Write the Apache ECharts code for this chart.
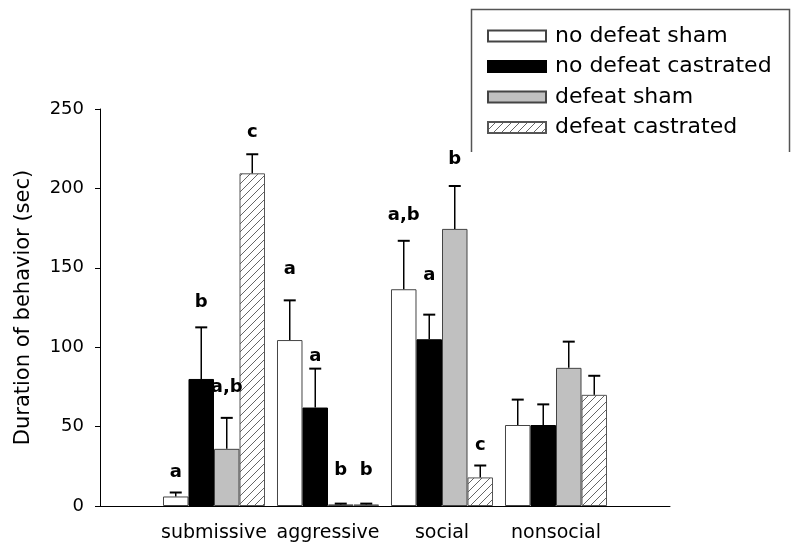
<!DOCTYPE html>
<html><head><meta charset="utf-8">
<script src="https://cdn.jsdelivr.net/npm/echarts@6/dist/echarts.min.js"></script>
<style>html,body{margin:0;padding:0;background:#fff}#c{width:800px;height:550px}</style>
</head><body><div id="c"></div>
<script>
// ---- data ----
const categories = ['submissive', 'aggressive', 'social', 'nonsocial'];
const seriesNames = ['no defeat sham', 'no defeat castrated', 'defeat sham', 'defeat castrated'];
const noDefeatSham = [6, 104.5, 136.5, 51];
const noDefeatCastrated = [80, 62, 105, 51];
const defeatSham = [36, 1, 174.5, 87];
const defeatCastrated = [209.5, 1, 18, 70];
const semNoDefeatSham = [2.5, 25, 30.5, 16];
const semNoDefeatCastrated = [32.5, 24.5, 15.5, 13];
const semDefeatSham = [19.5, 0.5, 27, 16.5];
const semDefeatCastrated = [12, 0.5, 7.5, 12];
const lettersNoDefeatSham = ['a', 'a', 'a,b', ''];
const lettersNoDefeatCastrated = ['b', 'a', 'a', ''];
const lettersDefeatSham = ['a,b', 'b', 'b', ''];
const lettersDefeatCastrated = ['c', 'b', 'c', ''];
const letterYNoDefeatSham = [21, 149, 183, null];
const letterYNoDefeatCastrated = [128.5, 94.5, 145.5, null];
const letterYDefeatSham = [74.5, 22.7, 218.5, null];
const letterYDefeatCastrated = [235.5, 22.7, 38.5, null];
const yMin = 0, yMax = 250, yStep = 50;
const yTitle = 'Duration of behavior (sec)';

// ---- build ----
const means = [noDefeatSham, noDefeatCastrated, defeatSham, defeatCastrated];
const sems = [semNoDefeatSham, semNoDefeatCastrated, semDefeatSham, semDefeatCastrated];
const letters = [lettersNoDefeatSham, lettersNoDefeatCastrated, lettersDefeatSham, lettersDefeatCastrated];
const letterYs = [letterYNoDefeatSham, letterYNoDefeatCastrated, letterYDefeatSham, letterYDefeatCastrated];
const axisCats = [''].concat(categories, ['']);
const GAP = 0.105;
const FONT = 'DejaVu Sans';

function hatch() {
  const c = document.createElement('canvas'); c.width = 8; c.height = 8;
  const g = c.getContext('2d');
  g.fillStyle = '#fff'; g.fillRect(0, 0, 8, 8);
  g.strokeStyle = '#666'; g.lineWidth = 1;
  g.beginPath();
  g.moveTo(0, 8); g.lineTo(8, 0);
  g.moveTo(-1, 1); g.lineTo(1, -1);
  g.moveTo(7, 9); g.lineTo(9, 7);
  g.stroke();
  return c;
}
const styles = [
  {color: '#ffffff', borderColor: '#444', borderWidth: 1},
  {color: '#000000', borderColor: '#000', borderWidth: 1},
  {color: '#c0c0c0', borderColor: '#444', borderWidth: 1},
  {color: {image: hatch(), repeat: 'repeat'}, borderColor: '#555', borderWidth: 1}
];

const barSeries = means.map((arr, si) => ({
  name: seriesNames[si], type: 'bar',
  data: [null].concat(arr, [null]),
  barGap: '0%', barCategoryGap: (GAP * 100) + '%',
  itemStyle: styles[si], silent: true, z: 2
}));

const errData = [], letData = [], letText = [];
means.forEach((arr, si) => arr.forEach((v, ci) => {
  errData.push([ci + 1, v, sems[si][ci], si]);
  if (letters[si][ci]) { letData.push([ci + 1, letterYs[si][ci], si]); letText.push(letters[si][ci]); }
}));

function barX(api, ci, si) {
  const c = api.coord([ci, 0]);
  const band = api.size([1, 0])[0];
  const bw = band * (1 - GAP) / 4;
  return c[0] + (si - 1.5) * bw;
}

const chart = echarts.init(document.getElementById('c'), null, {renderer: 'canvas'});
chart.setOption({
  animation: false,
  backgroundColor: '#fff',
  grid: {left: 100, right: 130, top: 109, bottom: 44, containLabel: false},
  legend: {
    data: seriesNames, orient: 'vertical', left: 482, top: 20,
    itemWidth: 58, itemHeight: 11, itemGap: 8.5, icon: 'rect', selectedMode: false,
    textStyle: {fontFamily: FONT, fontSize: 22, color: '#000', padding: [0, 0, 0, 4]}
  },
  xAxis: {
    type: 'category', data: axisCats, boundaryGap: false,
    axisLine: {lineStyle: {color: '#000', width: 1}},
    axisTick: {show: false},
    axisLabel: {interval: 0, fontFamily: FONT, fontSize: 19, color: '#000', margin: 18}
  },
  yAxis: {
    type: 'value', min: yMin, max: yMax, interval: yStep,
    name: yTitle, nameLocation: 'middle', nameGap: 66,
    nameTextStyle: {fontFamily: FONT, fontSize: 21, color: '#000'},
    axisLine: {show: true, lineStyle: {color: '#000', width: 1}},
    axisTick: {show: true, length: 5, lineStyle: {color: '#000'}},
    splitLine: {show: false},
    axisLabel: {fontFamily: FONT, fontSize: 18, color: '#000', margin: 16}
  },
  graphic: [{
    type: 'polyline', silent: true,
    shape: {points: [[471.5, 152], [471.5, 9.5], [789.5, 9.5], [789.5, 152]]},
    style: {stroke: '#555', lineWidth: 1.5, fill: null}
  }],
  series: barSeries.concat([
    {
      type: 'custom', silent: true, z: 3, data: errData,
      encode: {x: 0, y: 1},
      renderItem: (params, api) => {
        const ci = api.value(0), m = api.value(1), e = api.value(2), si = api.value(3);
        const x = barX(api, ci, si);
        const y0 = api.coord([ci, m])[1];
        const y1 = api.coord([ci, m + e])[1];
        return {type: 'group', children: [
          {type: 'line', shape: {x1: x, y1: y0, x2: x, y2: y1}, style: {stroke: '#000', lineWidth: 1.5}},
          {type: 'line', shape: {x1: x - 6, y1: y1, x2: x + 6, y2: y1}, style: {stroke: '#000', lineWidth: 2}}
        ]};
      }
    },
    {
      type: 'custom', silent: true, z: 4, data: letData,
      encode: {x: 0, y: 1},
      renderItem: (params, api) => {
        const ci = api.value(0), yv = api.value(1), si = api.value(2);
        const x = barX(api, ci, si);
        const y = api.coord([ci, yv])[1];
        return {type: 'text', x: x, y: y, style: {
          text: letText[params.dataIndex], fontFamily: FONT, fontSize: 18, fontWeight: 'bold',
          fill: '#000', align: 'center', verticalAlign: 'middle'}};
      }
    }
  ])
});
</script></body></html>
